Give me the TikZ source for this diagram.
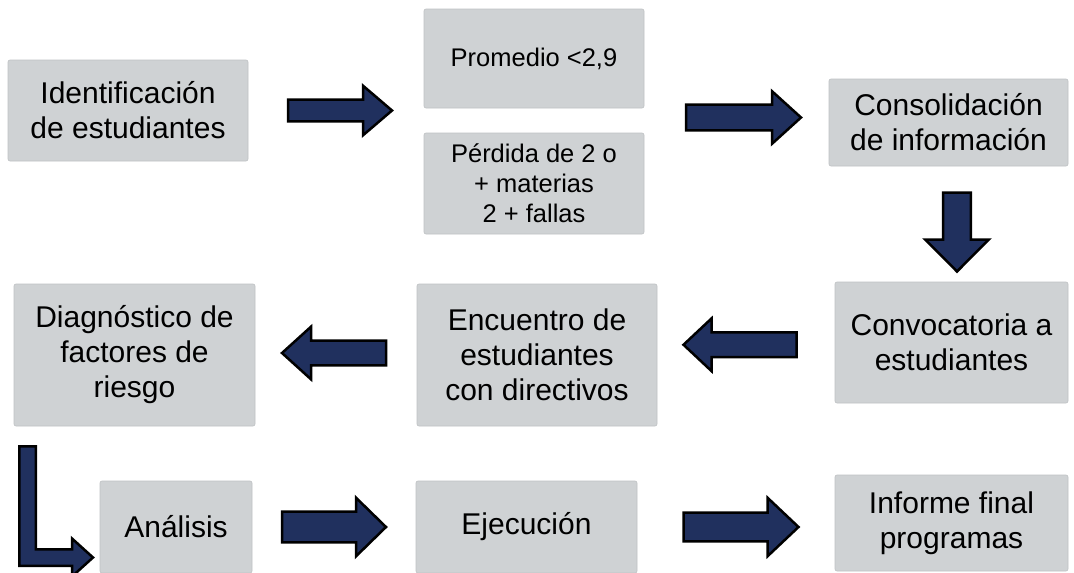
\documentclass[tikz,border=0pt]{standalone}
\usepackage{fontspec}
\setmainfont{Liberation Sans}
\usetikzlibrary{calc}

\definecolor{cajagris}{RGB}{207,210,212}
\definecolor{bordegris}{RGB}{190,193,195}
\definecolor{azul}{RGB}{32,48,94}

\begin{document}
\begin{tikzpicture}
[
	x=1pt, y=-1pt,
	caja/.style={rectangle, rounded corners=2pt, fill=cajagris, draw=bordegris, line width=0.6pt, inner sep=0pt, align=center, font=\fontsize{30}{35}\selectfont},
	cajachica/.style={caja, font=\fontsize{25.5}{30}\selectfont},
	bloque/.style={fill=azul, draw=black, line width=2.5pt},
	pics/flecha/.style args={#1/#2/#3/#4}{code={
		\draw[bloque] (-#1/2,-#2) -- (#1/2-#4,-#2) -- (#1/2-#4,-#3) -- (#1/2,0)
			-- (#1/2-#4,#3) -- (#1/2-#4,#2) -- (-#1/2,#2) -- cycle;
	}},
]
	\useasboundingbox (0,0) rectangle (1074,573);

	% fila 1
	\node[caja, minimum width=240, minimum height=101] (ident) at (128,110.5) {Identificación\\de estudiantes};
	\node[cajachica, minimum width=220, minimum height=99] (prom) at (534,58.5) {Promedio <2,9};
	\node[cajachica, minimum width=220, minimum height=101] (perd) at (534,183.5) {Pérdida de 2 o\\+ materias\\2 + fallas};
	\node[caja, minimum width=239, minimum height=87] (cons) at (948.5,122.5) {Consolidación\\de información};

	% fila 2
	\node[caja, minimum width=233, minimum height=121] (conv) at (951.5,342.5) {Convocatoria a\\estudiantes};
	\node[caja, minimum width=240, minimum height=142] (encu) at (537,355) {Encuentro de\\estudiantes\\con directivos};
	\node[caja, minimum width=241, minimum height=142] (diag) at (134.5,355) {Diagnóstico de\\factores de\\riesgo};

	% fila 3
	\node[caja, minimum width=152, minimum height=92] (anal) at (176,527) {Análisis};
	\node[caja, minimum width=221, minimum height=92] (ejec) at (526.5,527) {Ejecución};
	\node[caja, minimum width=233, minimum height=96] (info) at (951.5,523) {Informe final\\programas};

	% flechas
	\pic[shift={(4,0)}] at ($(ident.east)!0.5!(ident.east -| prom.west)$) {flecha=104/10.8/24.8/29};
	\pic[shift={(7,-5)}] at ($(prom.east |- cons.west)!0.5!(cons.west)$) {flecha=115/12.8/26.3/29};
	\pic[shift={(7,8)}, rotate=-90] at ($(cons.south)!0.5!(conv.north)$) {flecha=79/13.8/31.8/32};
	\pic[shift={(-6,-4)}, rotate=180] at ($(conv.west)!0.5!(encu.east)$) {flecha=113/12.3/26.3/28};
	\pic[shift={(-2,-2)}, rotate=180] at ($(encu.west)!0.5!(diag.east)$) {flecha=104/12.3/26.3/29};
	\pic at ($(anal.east)!0.5!(ejec.west)$) {flecha=104/15.3/29.3/30};
	\pic[shift={(5,2)}] at ($(ejec.east)!0.5!(info.west)$) {flecha=115/14.3/29.3/31};

	% flecha en L
	\draw[bloque] (19.25,446.25) -- (35.75,446.25) -- (35.75,549.25) -- (72,549.25) -- (72,538.5)
		-- (93,557.5) -- (72,576.5) -- (72,565.75) -- (19.25,565.75) -- cycle;
\end{tikzpicture}
\end{document}
